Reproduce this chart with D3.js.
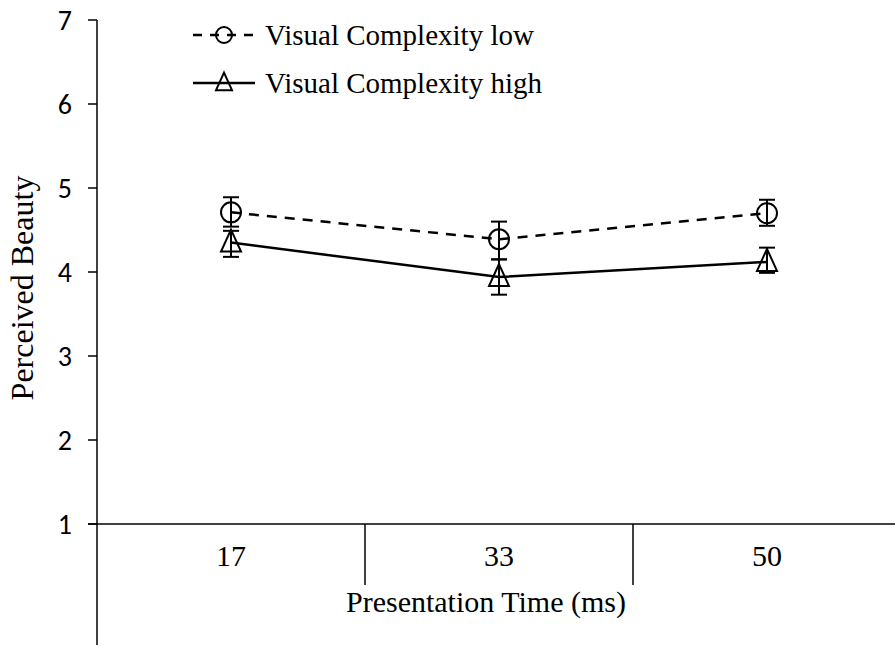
<!DOCTYPE html>
<html>
<head>
<meta charset="utf-8">
<script src="https://cdn.jsdelivr.net/npm/d3@7"></script>
<style>
  body { margin: 0; background: #fff; }
  svg { display: block; }
</style>
</head>
<body>
<div id="chart"></div>
<script>
// presentation time categories (ms)
const times = ['17', '33', '50']
const yTicks = [1, 2, 3, 4, 5, 6, 7]

// perceived beauty, means and error bar ends
const lowMean = [4.71, 4.39, 4.70]
const lowUpper = [4.89, 4.60, 4.86]
const lowLower = [4.54, 4.15, 4.55]

const highMean = [4.35, 3.94, 4.12]
const highUpper = [4.49, 4.15, 4.29]
const highLower = [4.18, 3.73, 3.99]

const series = [
  { name: 'Visual Complexity low', mean: lowMean, upper: lowUpper, lower: lowLower, marker: 'circle', dash: '10,8' },
  { name: 'Visual Complexity high', mean: highMean, upper: highUpper, lower: highLower, marker: 'triangle', dash: null }
]

const width = 895
const height = 646

const svg = d3.select('#chart')
  .append('svg')
  .attr('width', width)
  .attr('height', height)

const x = d3.scaleBand().domain(times).range([97, 901])
const y = d3.scaleLinear().domain([1, 7]).range([524, 20])

const serif = 'Liberation Serif, Times New Roman, serif'
const sans = 'Carlito, Open Sans, sans-serif'

// y axis line, running down into the category area
svg.append('line')
  .attr('x1', x.range()[0]).attr('x2', x.range()[0])
  .attr('y1', y(7)).attr('y2', 645)
  .attr('stroke', '#000').attr('stroke-width', 1.5)

// y ticks + labels
svg.selectAll('.ytick')
  .data(yTicks)
  .enter()
  .append('line')
  .attr('class', 'ytick')
  .attr('x1', x.range()[0] - 9).attr('x2', x.range()[0])
  .attr('y1', d => y(d)).attr('y2', d => y(d))
  .attr('stroke', '#000').attr('stroke-width', 1.5)

svg.selectAll('.ylab')
  .data(yTicks)
  .enter()
  .append('text')
  .attr('class', 'ylab')
  .text(d => d)
  .attr('x', 72)
  .attr('y', d => y(d))
  .attr('dy', '0.36em')
  .attr('text-anchor', 'end')
  .attr('font-family', sans)
  .attr('font-size', 28)

// x axis line at 1
svg.append('line')
  .attr('x1', x.range()[0] - 9).attr('x2', width)
  .attr('y1', y(1)).attr('y2', y(1))
  .attr('stroke', '#000').attr('stroke-width', 1.5)

// category separators
svg.selectAll('.sep')
  .data(times.slice(1))
  .enter()
  .append('line')
  .attr('class', 'sep')
  .attr('x1', d => x(d)).attr('x2', d => x(d))
  .attr('y1', y(1)).attr('y2', 585)
  .attr('stroke', '#000').attr('stroke-width', 1.5)

svg.selectAll('.xlab')
  .data(times)
  .enter()
  .append('text')
  .attr('class', 'xlab')
  .text(d => d)
  .attr('x', d => x(d) + x.bandwidth() / 2)
  .attr('y', 566)
  .attr('text-anchor', 'middle')
  .attr('font-family', serif)
  .attr('font-size', 30)

svg.append('text')
  .text('Presentation Time (ms)')
  .attr('x', 486)
  .attr('y', 612)
  .attr('text-anchor', 'middle')
  .attr('font-family', serif)
  .attr('font-size', 30)

svg.append('text')
  .text('Perceived Beauty')
  .attr('transform', 'translate(33,' + 288 + ') rotate(-90)')
  .attr('text-anchor', 'middle')
  .attr('font-family', serif)
  .attr('font-size', 32)

const cx = i => x(times[i]) + x.bandwidth() / 2

function drawMarker(g, type, px, py, sz) {
  if (type === 'circle') {
    g.append('circle')
      .attr('cx', px).attr('cy', py).attr('r', sz)
      .attr('fill', 'none').attr('stroke', '#000').attr('stroke-width', 2)
  } else {
    g.append('path')
      .attr('d', `M${px},${py - sz * 1.3}L${px + sz},${py + sz * 0.9}L${px - sz},${py + sz * 0.9}Z`)
      .attr('fill', 'none').attr('stroke', '#000').attr('stroke-width', 2)
  }
}

series.forEach(s => {
  const g = svg.append('g')
  const line = d3.line().x((d, i) => cx(i)).y(d => y(d))

  g.append('path')
    .datum(s.mean)
    .attr('d', line)
    .attr('fill', 'none')
    .attr('stroke', '#000')
    .attr('stroke-width', 2.5)
    .attr('stroke-dasharray', s.dash)

  s.mean.forEach((m, i) => {
    const px = cx(i)
    g.append('line')
      .attr('x1', px).attr('x2', px)
      .attr('y1', y(s.upper[i])).attr('y2', y(s.lower[i]))
      .attr('stroke', '#000').attr('stroke-width', 2)
    ;[s.upper[i], s.lower[i]].forEach(v => {
      g.append('line')
        .attr('x1', px - 8).attr('x2', px + 8)
        .attr('y1', y(v)).attr('y2', y(v))
        .attr('stroke', '#000').attr('stroke-width', 2)
    })
    drawMarker(g, s.marker, px, y(m), 10)
  })
})

// legend
const legend = svg.append('g').attr('transform', 'translate(193, 35)')

series.forEach((s, i) => {
  const g = legend.append('g').attr('transform', `translate(0,${i * 48})`)
  g.append('line')
    .attr('x1', 0).attr('x2', 62)
    .attr('y1', 0).attr('y2', 0)
    .attr('stroke', '#000').attr('stroke-width', 2.5)
    .attr('stroke-dasharray', s.dash ? '9,8' : null)
  drawMarker(g, s.marker, 31, 0, 8)
  g.append('text')
    .text(s.name)
    .attr('x', 72)
    .attr('y', 0)
    .attr('dy', '0.33em')
    .attr('font-family', serif)
    .attr('font-size', 29)
})
</script>
</body>
</html>
